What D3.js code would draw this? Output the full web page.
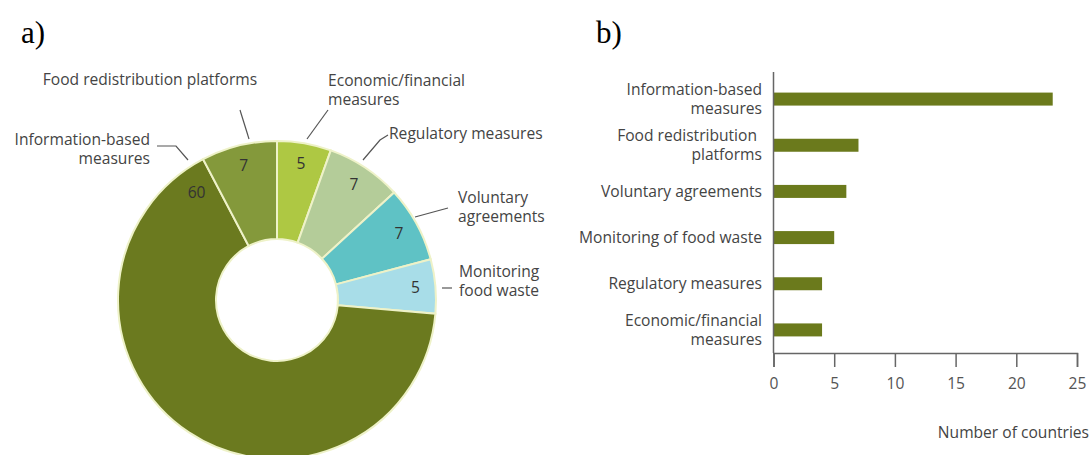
<!doctype html>
<html lang="en">
<head>
<meta charset="utf-8">
<title>Food waste measures</title>
<script src="https://d3js.org/d3.v7.min.js"></script>
<style>
  body { margin: 0; background: #fff; }
  text { font-family: "Open Sans", sans-serif; fill: #444; }
  .panel { font-family: "Liberation Serif", "Times New Roman", serif; fill: #000; }
</style>
</head>
<body>
<div id="chart"></div>
<script>
// a) number of measures by type (donut), clockwise from 12 o'clock
var pieCategories = ['Economic/financial measures', 'Regulatory measures', 'Voluntary agreements',
  'Monitoring food waste', 'Information-based measures', 'Food redistribution platforms'];
var pieValues = [5, 7, 7, 5, 60, 7];
var pieColors = ['#aec843', '#b4cc99', '#5fc2c5', '#a8dde8', '#6b7a1f', '#84993b'];

// b) number of countries by type (bars)
var barCategories = ['Information-based measures', 'Food redistribution platforms', 'Voluntary agreements',
  'Monitoring of food waste', 'Regulatory measures', 'Economic/financial measures'];
var barValues = [23, 7, 6, 5, 4, 4];
var barTicks = [0, 5, 10, 15, 20, 25];

var fs = '15.6px';

var svg = d3.select('#chart').append('svg')
  .attr('width', 1091)
  .attr('height', 455);

svg.append('text').attr('class', 'panel').attr('x', 21).attr('y', 43).style('font-size', '31px').text('a)');
svg.append('text').attr('class', 'panel').attr('x', 596).attr('y', 43).style('font-size', '31px').text('b)');

// ---- donut ----
var donut = svg.append('g').attr('transform', 'translate(277,300)');
var pie = d3.pie().sort(null).value(function(d) { return d; });
var arcs = pie(pieValues);
var arc = d3.arc().innerRadius(61).outerRadius(159);
var labelArc = d3.arc().innerRadius(139).outerRadius(139);

donut.selectAll('path')
  .data(arcs)
  .enter().append('path')
  .attr('d', arc)
  .attr('fill', function(d, i) { return pieColors[i]; })
  .attr('stroke', '#eef2c8')
  .attr('stroke-width', 2);

donut.selectAll('.val')
  .data(arcs)
  .enter().append('text')
  .attr('class', 'val')
  .attr('transform', function(d) {
    // the big slice has its number near its end, close to the top
    if (d.value > 50) {
      var a = d.endAngle - 0.16;
      return 'translate(' + (Math.sin(a) * 134) + ',' + (-Math.cos(a) * 134) + ')';
    }
    return 'translate(' + labelArc.centroid(d) + ')';
  })
  .attr('text-anchor', 'middle')
  .attr('dy', '0.35em')
  .style('font-size', fs)
  .style('fill', '#333')
  .text(function(d) { return d.value; });

// callouts: label lines and leader lines
var callouts = [
  { lines: ['Economic/financial', 'measures'], x: 328, y: 86, anchor: 'start', path: [[307, 139], [328, 110]] },
  { lines: ['Regulatory measures'], x: 389, y: 139, anchor: 'start', path: [[363, 160], [380, 140], [388, 135]] },
  { lines: ['Voluntary', 'agreements'], x: 458, y: 203, anchor: 'start', path: [[415, 217], [448, 208]] },
  { lines: ['Monitoring', 'food waste'], x: 459, y: 277, anchor: 'start', path: [[442, 288], [452, 288]] },
  { lines: ['Information-based', 'measures'], x: 150, y: 145, anchor: 'end', path: [[188, 160], [176, 146], [157, 146]] },
  { lines: ['Food redistribution platforms'], x: 150, y: 85, anchor: 'middle', path: [[249, 139], [240, 110]] }
];

callouts.forEach(function(c) {
  svg.append('path')
    .attr('d', d3.line()(c.path))
    .attr('fill', 'none')
    .attr('stroke', '#555')
    .attr('stroke-width', 1.2);
  var t = svg.append('text')
    .attr('x', c.x)
    .attr('y', c.y)
    .attr('text-anchor', c.anchor)
    .style('font-size', fs);
  c.lines.forEach(function(l, i) {
    t.append('tspan').attr('x', c.x).attr('dy', i === 0 ? 0 : 19).text(l);
  });
});

// ---- bar chart ----
var x = d3.scaleLinear().domain([0, 25]).range([773.5, 1077]);
var y = d3.scalePoint().domain(barCategories).range([76, 353]).padding(0.5);

svg.selectAll('.bar')
  .data(barValues)
  .enter().append('rect')
  .attr('class', 'bar')
  .attr('x', x(0))
  .attr('y', function(d, i) { return y(barCategories[i]) - 6.5; })
  .attr('width', function(d) { return x(d) - x(0); })
  .attr('height', 13)
  .attr('fill', '#6b7a1c');

// y axis line
svg.append('line')
  .attr('x1', x(0)).attr('x2', x(0))
  .attr('y1', 72).attr('y2', 353)
  .attr('stroke', '#666').attr('stroke-width', 1.5);

// x axis
var xAxis = svg.append('g')
  .attr('transform', 'translate(0,353)')
  .call(d3.axisBottom(x).tickValues(barTicks).tickSize(14).tickPadding(11));
xAxis.select('.domain').attr('stroke', '#666').attr('stroke-width', 1.5);
xAxis.selectAll('.tick line').attr('stroke', '#666').attr('stroke-width', 1.5);
xAxis.selectAll('.tick text')
  .style('font-family', '"Open Sans", sans-serif')
  .style('font-size', fs)
  .style('fill', '#555');

svg.append('text')
  .attr('x', 1089)
  .attr('y', 438)
  .attr('text-anchor', 'end')
  .style('font-size', fs)
  .text('Number of countries');

// category labels, wrapped as in the original
var barLabelLines = {
  'Information-based measures': ['Information-based', 'measures'],
  'Food redistribution platforms': ['Food redistribution', 'platforms'],
  'Economic/financial measures': ['Economic/financial', 'measures']
};
barCategories.forEach(function(c) {
  var lines = barLabelLines[c] || [c];
  var t = svg.append('text')
    .attr('x', 762)
    .attr('y', y(c) + 5.5 - (lines.length - 1) * 9.5)
    .attr('text-anchor', 'end')
    .style('font-size', fs);
  lines.forEach(function(l, i) {
    t.append('tspan').attr('x', i === 0 && lines.length > 1 && c === 'Food redistribution platforms' ? 757 : 762)
      .attr('dy', i === 0 ? 0 : 19).text(l);
  });
});
</script>
</body>
</html>
